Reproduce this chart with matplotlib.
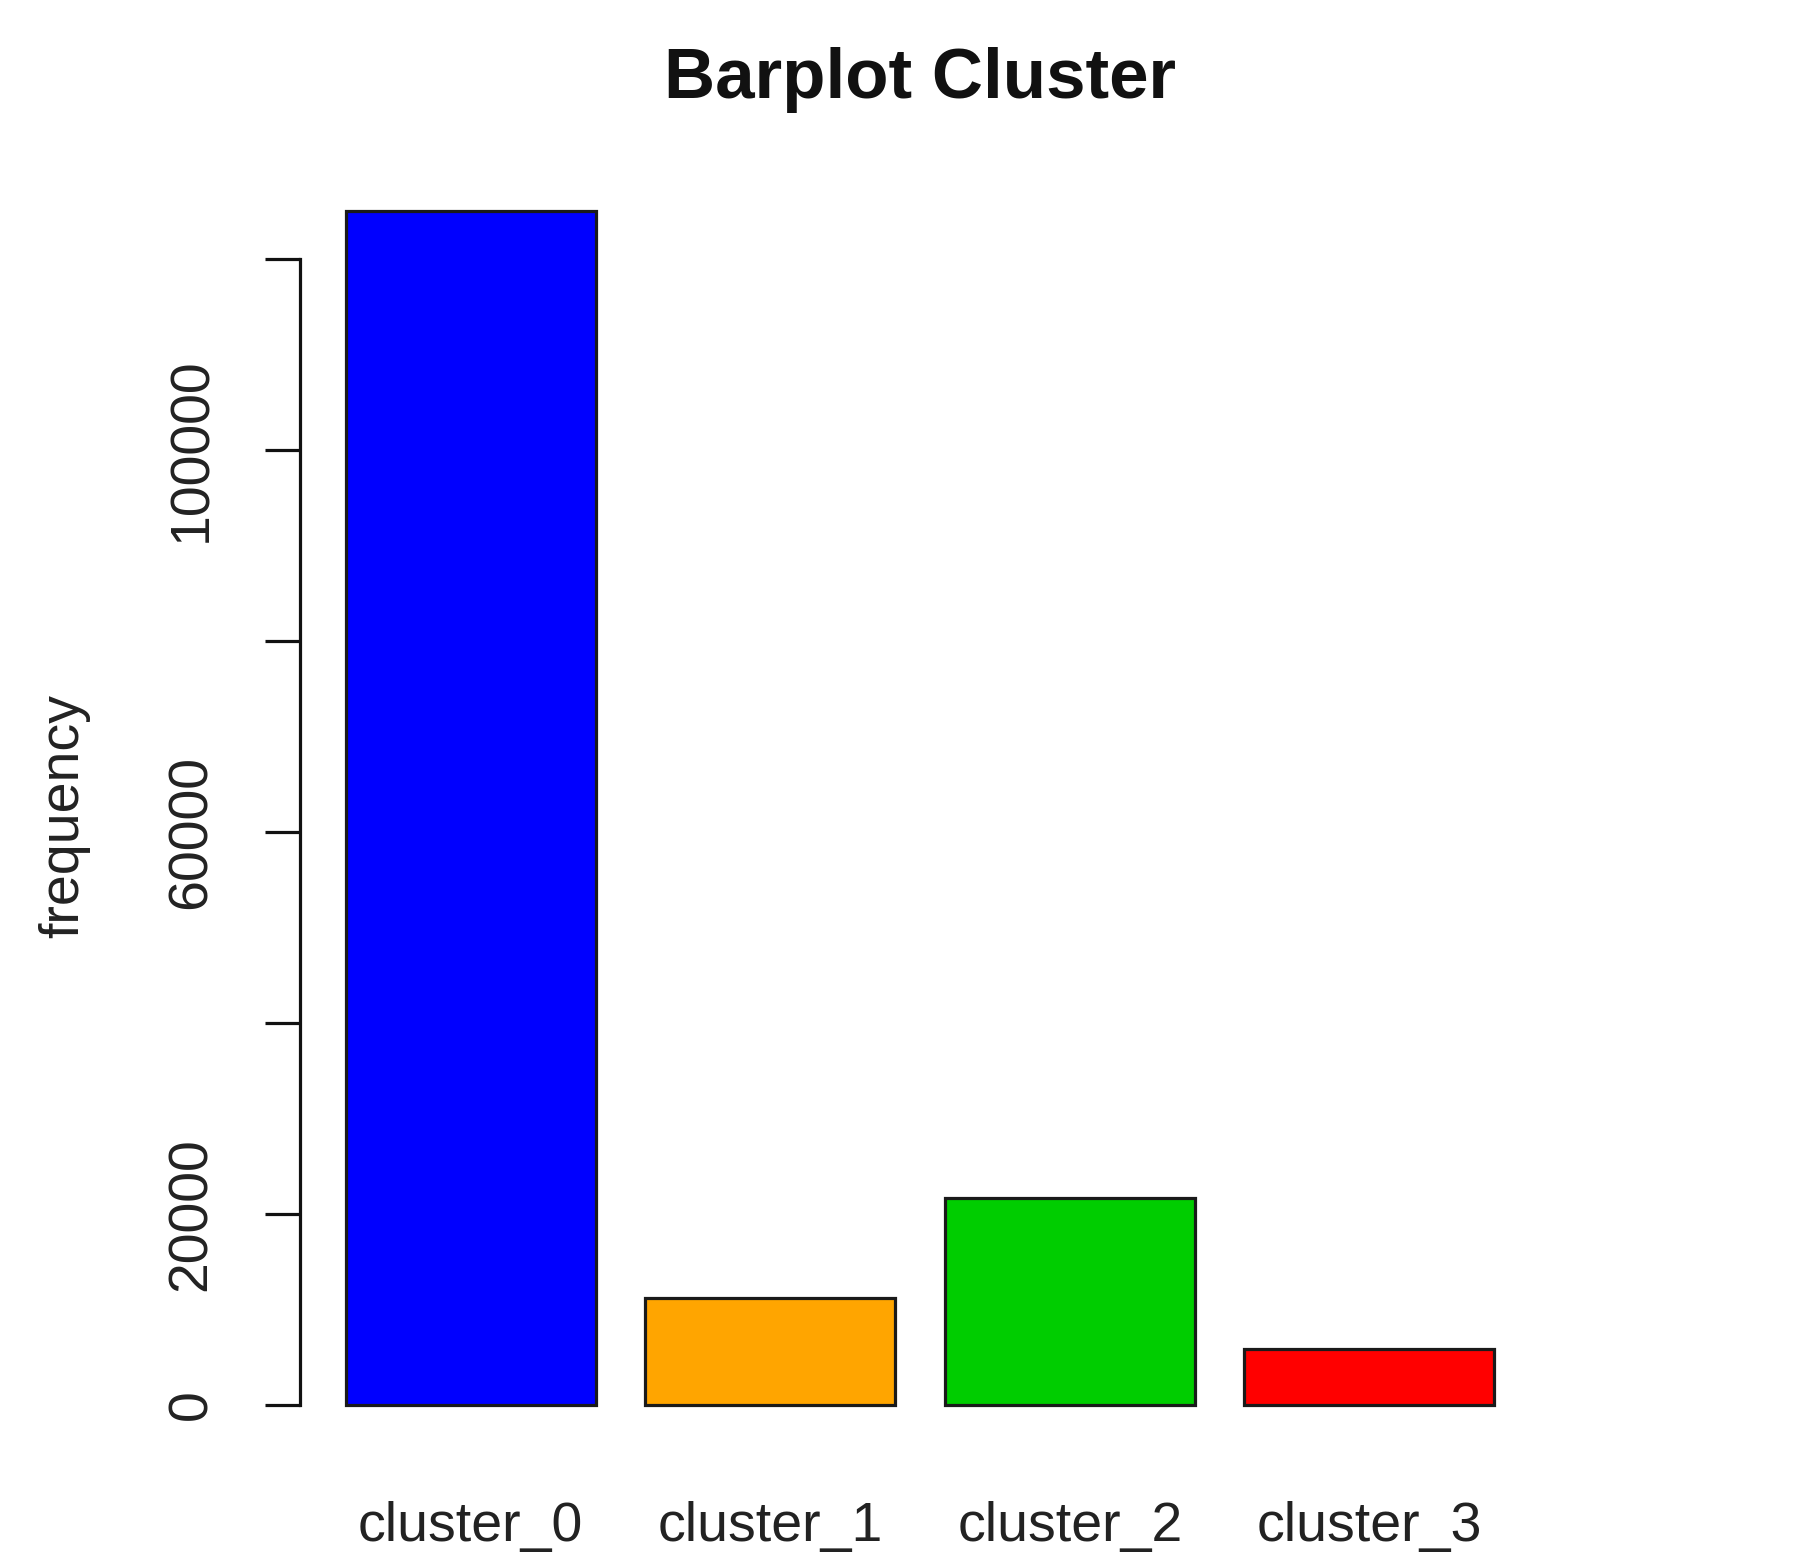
import matplotlib
matplotlib.use("Agg")
import matplotlib.pyplot as plt
import numpy as np

plt.rcParams['font.family'] = ['Liberation Sans', 'DejaVu Sans']

categories = ["cluster_0", "cluster_1", "cluster_2", "cluster_3"]
frequency = [125000, 11200, 21700, 5860]
bar_colors = ["#0000FF", "#FFA500", "#00CD00", "#FF0000"]
y_ticks = [0, 20000, 40000, 60000, 80000, 100000, 120000]
y_tick_labels = ["0", "20000", "", "60000", "", "100000", ""]
title = "Barplot Cluster"
ylabel = "frequency"

W, H = 1810, 1557
fig = plt.figure(figsize=(W / 100, H / 100), dpi=100)
left, right = 300 / W, 1540 / W
top, bottom = 1 - 163.5 / H, 1 - 1452.75 / H
ax = fig.add_axes([left, bottom, right - left, top - bottom])

n = len(categories)
x = np.arange(n) * 1.2 + 0.7
ax.bar(x, frequency, width=1.0, color=bar_colors, edgecolor="#1a1a1a", linewidth=2.3)

xr = (0.2, 0.2 + 1.2 * n - 0.2)
ext = 0.04 * (xr[1] - xr[0])
ax.set_xlim(xr[0] - ext, xr[1] + ext)
ymax = max(frequency)
ax.set_ylim(-0.04 * ymax, 1.04 * ymax)

for s in ["top", "right", "bottom"]:
    ax.spines[s].set_visible(False)
ax.spines["left"].set_bounds(y_ticks[0], y_ticks[-1])
ax.spines["left"].set_linewidth(2.3)
ax.spines["left"].set_color("#111111")

ax.set_yticks(y_ticks)
ax.set_yticklabels(y_tick_labels, rotation=90, va="center", fontsize=40, color="#222222")
ax.tick_params(axis="y", length=25, width=2.3, color="#111111", pad=34)

ax.set_xticks(x)
ax.set_xticklabels(categories, fontsize=40, color="#222222")
ax.tick_params(axis="x", length=0, pad=35)

ax.set_title(title, fontsize=51, fontweight="bold", pad=47, color="#111111")
ax.set_ylabel(ylabel, fontsize=40, va="center", color="#222222")
ax.yaxis.set_label_coords(-0.19, 0.494)

fig.savefig("out.png", dpi=100, facecolor="white")
